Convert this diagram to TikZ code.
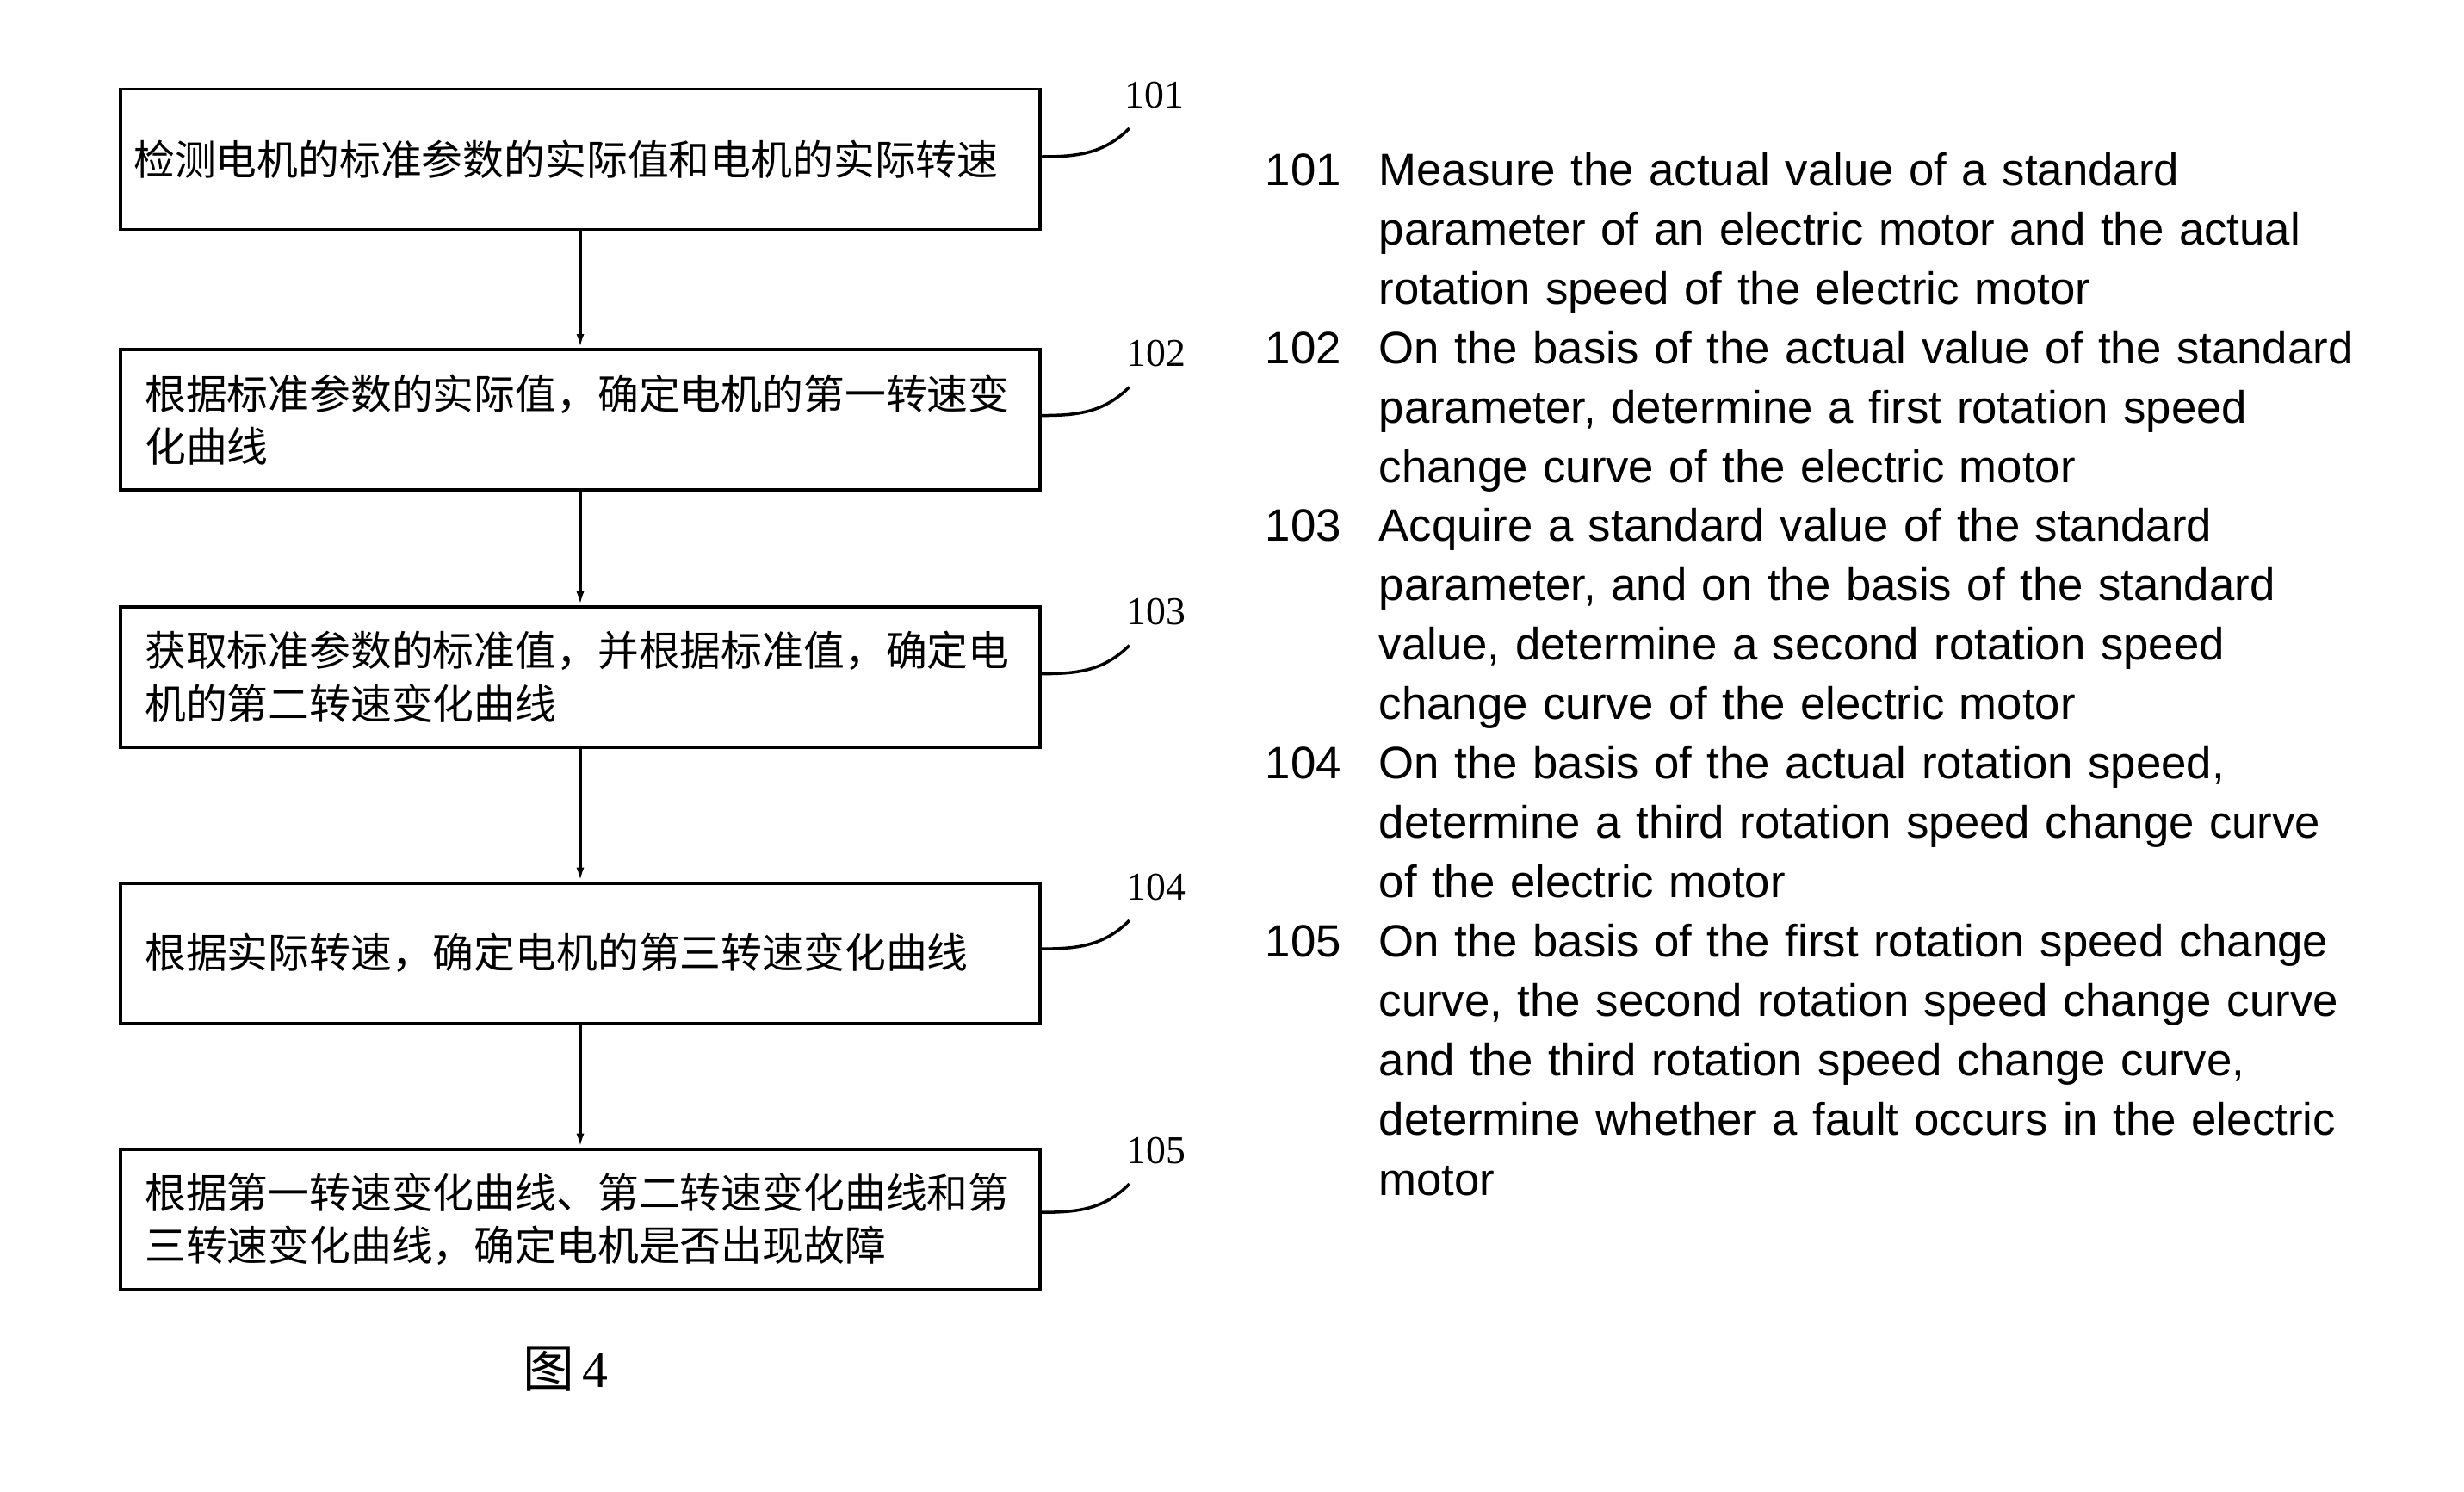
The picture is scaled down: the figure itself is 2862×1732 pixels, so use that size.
\documentclass[tikz,border=0pt]{standalone}
\usepackage{fontspec}
\setmainfont{Liberation Sans}
\newfontfamily\cjk{Noto Sans CJK SC}
\newfontfamily\tagfont{Liberation Serif}
\usepackage{tikz}
\usetikzlibrary{arrows.meta, positioning}

\begin{document}
\begin{tikzpicture}[
  x=0.01cm, y=-0.01cm,
  box/.style={draw, line width=1.1pt, rectangle, minimum height=1.63cm,
              inner xsep=0.28cm, text width=10.11cm, align=left,
              font=\cjk\fontsize{13.6pt}{17.6pt}\selectfont},
  flow/.style={-{Latex[length=0.16cm, width=0.09cm]}, line width=1pt},
  leader/.style={line width=1pt},
  tag/.style={inner sep=0, anchor=base west, font=\tagfont\fontsize{13pt}{15pt}\selectfont},
  num/.style={inner sep=0, anchor=base west, font=\fontsize{15pt}{19.7pt}\selectfont},
  desc/.style={inner sep=0, anchor=base west, align=left, text width=12cm,
               font=\fontsize{15pt}{19.7pt}\selectfont}
]
  \useasboundingbox (0,0) rectangle (2862,1732);

  % flow chart
  \node[box, inner xsep=0.15cm, text width=10.37cm] (b1) at (674,185)
    {检测电机的标准参数的实际值和电机的实际转速};
  \node[box, below=1.355cm of b1] (b2)
    {根据标准参数的实际值，确定电机的第一转速变\\化曲线};
  \node[box, below=1.32cm of b2] (b3)
    {获取标准参数的标准值，并根据标准值，确定电\\机的第二转速变化曲线};
  \node[box, below=1.535cm of b3] (b4)
    {根据实际转速，确定电机的第三转速变化曲线};
  \node[box, below=1.42cm of b4] (b5)
    {根据第一转速变化曲线、第二转速变化曲线和第\\三转速变化曲线，确定电机是否出现故障};

  \draw[flow] (b1.south) -- (b1.south |- b2.north);
  \draw[flow] (b2.south) -- (b2.south |- b3.north);
  \draw[flow] (b3.south) -- (b3.south |- b4.north);
  \draw[flow] (b4.south) -- (b4.south |- b5.north);

  % reference numerals
  \draw[leader] ([yshift=0.03cm]b1.east) to[out=0, in=-135] ++(102,-33) coordinate (e1);
  \draw[leader] ([yshift=0.05cm]b2.east) to[out=0, in=-135] ++(102,-33) coordinate (e2);
  \draw[leader] ([yshift=0.04cm]b3.east) to[out=0, in=-135] ++(102,-33) coordinate (e3);
  \draw[leader] ([yshift=0.05cm]b4.east) to[out=0, in=-135] ++(102,-33) coordinate (e4);
  \draw[leader] ([yshift=0.08cm]b5.east) to[out=0, in=-135] ++(102,-33) coordinate (e5);
  \node[tag] (t1) at ([shift={(-6,-24)}]e1) {101};
  \node[tag] (t2) at ([shift={(-4,-24)}]e2) {102};
  \node[tag] (t3) at ([shift={(-4,-24)}]e3) {103};
  \node[tag] (t4) at ([shift={(-4,-24)}]e4) {104};
  \node[tag] (t5) at ([shift={(-4,-24)}]e5) {105};

  \node[inner sep=0, font=\fontsize{17pt}{20pt}\selectfont] (fig) at (657,1590)
    {{\cjk 图}\,{\tagfont 4}};

  % legend
  \node[num] (n1) at (1469,215) {101};
  \node[desc] (d1) at (1601,215) {Measure the actual value of a standard\\
    parameter of an electric motor and the actual\\rotation speed of the electric motor};
  \node[num] (n2) at (1469,422) {102};
  \node[desc] (d2) at (1601,422) {On the basis of the actual value of the standard\\
    parameter, determine a first rotation speed\\change curve of the electric motor};
  \node[num] (n3) at (1469,628) {103};
  \node[desc] (d3) at (1601,628) {Acquire a standard value of the standard\\
    parameter, and on the basis of the standard\\value, determine a second rotation speed\\
    change curve of the electric motor};
  \node[num] (n4) at (1469,904) {104};
  \node[desc] (d4) at (1601,904) {On the basis of the actual rotation speed,\\
    determine a third rotation speed change curve\\of the electric motor};
  \node[num] (n5) at (1469,1111) {105};
  \node[desc] (d5) at (1601,1111) {On the basis of the first rotation speed change\\
    curve, the second rotation speed change curve\\and the third rotation speed change curve,\\
    determine whether a fault occurs in the electric\\motor};
\end{tikzpicture}
\end{document}
